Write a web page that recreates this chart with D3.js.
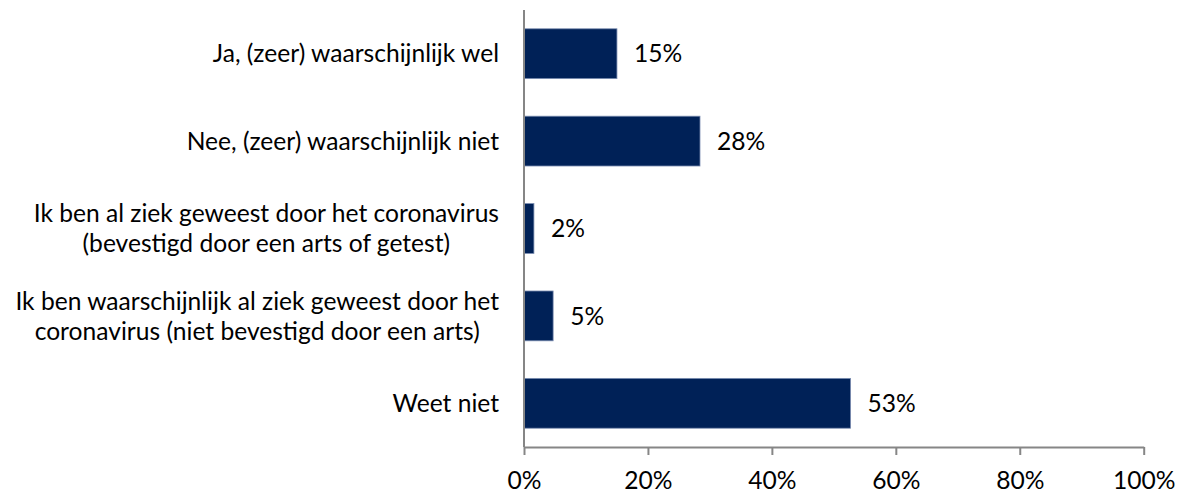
<!DOCTYPE html>
<html><head><meta charset="utf-8">
<script src="https://cdn.jsdelivr.net/npm/d3@7"></script>
<style>body{margin:0;background:#fff}svg{display:block}text{font-family:Lato,"Open Sans",sans-serif;fill:#000}</style>
</head><body><svg id="c" width="1181" height="494"></svg>
<script>
const categories = [
  ["Ja, (zeer) waarschijnlijk wel"],
  ["Nee, (zeer) waarschijnlijk niet"],
  ["Ik ben al ziek geweest door het coronavirus", "(bevestigd door een arts of getest)"],
  ["Ik ben waarschijnlijk al ziek geweest door het", "coronavirus (niet bevestigd door een arts)"],
  ["Weet niet"]
];
const values = [15, 28.4, 1.6, 4.7, 52.7];
const valueLabels = ["15%", "28%", "2%", "5%", "53%"];
const ticks = [0, 20, 40, 60, 80, 100];

const svg = d3.select("#c");
const fs = 24.6;
const x = d3.scaleLinear().domain([0, 100]).range([524, 1143.7]);
const y = d3.scaleBand().domain(d3.range(categories.length)).range([10, 447]).paddingInner(0.43).paddingOuter(0.215);

svg.selectAll("rect.bar").data(values).join("rect")
  .attr("x", x(0)).attr("y", (d,i)=>y(i))
  .attr("width", d=>x(d)-x(0)).attr("height", y.bandwidth())
  .attr("fill", "#002157").attr("stroke", "#7a8cb0").attr("stroke-width", 0.8);

svg.selectAll("text.val").data(values).join("text")
  .attr("x", d=>x(d)+17).attr("y", (d,i)=>y(i)+y.bandwidth()/2)
  .attr("dy", "0.35em").attr("font-size", fs)
  .text((d,i)=>valueLabels[i]);

const lh = 30;
categories.forEach((lines, i) => {
  const cy = y(i) + y.bandwidth()/2;
  const t = svg.append("text").attr("text-anchor", "middle").attr("font-size", fs);
  const n = lines.length;
  lines.forEach((l, j) => {
    t.append("tspan").attr("y", cy + (j - (n-1)/2)*lh).attr("dy", "0.35em").text(l);
  });
  const w = d3.max(t.selectAll("tspan").nodes(), nd => nd.getComputedTextLength());
  t.selectAll("tspan").attr("x", 499 - w/2);
});

const axis = d3.axisBottom(x).tickValues(ticks).tickFormat(d=>d+"%").tickSize(8).tickSizeOuter(0);
const g = svg.append("g").attr("transform", "translate(0,447)").call(axis);
g.select(".domain").attr("stroke", "#868686").attr("stroke-width", 2);
g.selectAll(".tick line").attr("stroke", "#868686").attr("stroke-width", 2);
g.selectAll(".tick text").attr("font-size", fs).attr("font-family", "Lato,'Open Sans',sans-serif").attr("fill", "#000").attr("y", 0).attr("dy", "1.72em");

svg.append("line").attr("x1", x(0)).attr("x2", x(0)).attr("y1", 10).attr("y2", 447)
  .attr("stroke", "#868686").attr("stroke-width", 2);
</script></body></html>
